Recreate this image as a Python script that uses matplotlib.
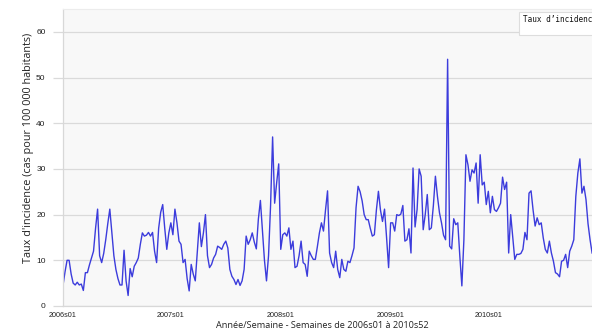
import matplotlib.pyplot as plt
from matplotlib.patches import Rectangle
import numpy as np

# Taux d'incidence hebdomadaire (cas pour 100 000 habitants), 2006s01 -> 2010s52
taux_2006 = [4.5, 7.5, 10, 10, 7, 5, 4.6, 5.2, 4.6, 4.8, 3.4, 7.3, 7.3, 9, 10.5, 12,
             17, 21.2, 11, 9.5, 11.5, 14.5, 18, 21.2, 16, 11, 8, 6, 4.6, 4.6, 12.2, 5.5,
             2.3, 8.2, 6.4, 8.7, 9.5, 10.5, 13.5, 16, 15.3, 15.5, 16.1, 15.3, 16.1, 12,
             9.5, 17, 20.5, 22.2, 17, 12.4]
taux_2007 = [16, 18.2, 15.6, 21.2, 18.2, 14.2, 13.5, 9.5, 10.2, 6, 3.3, 9.1, 7, 5.5, 12,
             18.2, 13, 16, 20, 11, 8.4, 9.1, 10.5, 11.3, 13.1, 12.8, 12.4, 13.5, 14.2,
             12.7, 8, 6.5, 5.8, 4.7, 5.8, 4.5, 5.5, 8, 15.3, 13.5, 14.5, 16, 14, 12.5, 19,
             23.1, 16.7, 10, 5.5, 11, 22, 37]
taux_2008 = [22.5, 27, 31.1, 12.4, 15.6, 16, 15.3, 17.1, 12.4, 14.2, 8.4, 8.7, 11, 14.2,
             9.5, 9.1, 6.5, 12, 11, 10.2, 10.2, 13, 16, 18.2, 16.4, 21, 25.2, 11.6, 9.5,
             8.4, 12, 8, 6.2, 10.2, 8, 7.6, 9.8, 9.5, 11, 12.7, 21.5, 26.2, 25, 23, 20,
             18.9, 18.9, 17, 15.3, 15.6, 21, 25.1]
taux_2009 = [21, 18.5, 21.2, 15, 8.4, 18.2, 18.2, 16.4, 20, 19.8, 20.1, 22, 14.2, 14.5,
             16.9, 11.6, 30.2, 17.3, 21.1, 30, 28.4, 16.7, 20, 24.4, 16.7, 17.1, 22, 28.4,
             24, 20.4, 18.2, 15.5, 14.5, 54, 13.1, 12.5, 19.1, 17.8, 18.2, 10.9, 4.4,
             14.5, 33.1, 30.9, 27.3, 29.8, 29.1, 31.3, 22.5, 33.1, 26.5, 27.1, 22.2]
taux_2010 = [25.1, 20.4, 24, 21.1, 20.7, 21.5, 22.5, 28.2, 25.5, 27.1, 11.6, 20, 15, 10.2,
             11.3, 11.3, 11.5, 12.4, 16.1, 14.5, 24.7, 25.2, 21, 17.5, 19.3, 17.8, 18.2,
             14.9, 12.4, 11.6, 14.2, 11.6, 9.8, 7.3, 7, 6.4, 9.8, 10, 11.3, 8.4, 12, 13.1,
             14.5, 24, 29.1, 32.2, 24.7, 26.2, 23.3, 18, 14.5, 11.6]

tick_labels = ["2006s01", "2007s01", "2008s01", "2009s01", "2010s01"]
tick_weeks = [0, 53, 107, 161, 209]

taux = np.array(taux_2006 + taux_2007 + taux_2008 + taux_2009 + taux_2010)
semaines = np.arange(len(taux))

fig = plt.figure(figsize=(5.92, 3.34), dpi=100)
ax = fig.add_axes([63 / 592, 28 / 334, 560 / 592, 297 / 334])
ax.set_facecolor("#f8f8f8")

ax.plot(semaines, taux, color="#3c3cdc", lw=1.0)

ax.set_xlim(0, 560 / 2.035)
ax.set_ylim(0, 65)
ax.set_yticks(range(0, 61, 10))
ax.set_xticks(tick_weeks)
ax.set_xticklabels(tick_labels)

ax.yaxis.grid(True, color="#dadada", lw=0.9)
ax.set_axisbelow(True)
ax.tick_params(axis="y", length=7, width=0.9, color="#dadada", pad=5.5,
               labelsize=6, labelcolor="#222222", labelfontfamily="Liberation Sans")
ax.tick_params(axis="x", length=0, pad=4, labelsize=5.2, labelcolor="#222222",
               labelfontfamily="Liberation Sans")

for side in ["left", "bottom"]:
    ax.spines[side].set_color("#d8d8d8")
    ax.spines[side].set_linewidth(0.9)
ax.spines["top"].set_color("#ececec")
ax.spines["right"].set_visible(False)

fig.text(29 / 592, 1 - 148 / 334, "Taux d'incidence (cas pour 100 000 habitants)",
         rotation=90, ha="center", va="center", fontsize=7.8,
         family="Open Sans", color="#222222")
fig.text(322 / 592, 1 - 326 / 334, "Année/Semaine - Semaines de 2006s01 à 2010s52",
         ha="center", va="center", fontsize=6.6,
         family="Open Sans", color="#222222")

# boîte de légende, coupée au bord droit
fig.patches.append(Rectangle((519 / 592, 1 - 35 / 334), 90 / 592, 23 / 334,
                             transform=fig.transFigure, fc="white", ec="#dddddd",
                             lw=0.8, zorder=5))
fig.text(523 / 592, 1 - 19 / 334, "Taux d\u2019incidence", ha="left", va="center",
         fontsize=5.5, family="DejaVu Sans Mono", color="#111111", zorder=6)

fig.savefig("out.png", dpi=100)
